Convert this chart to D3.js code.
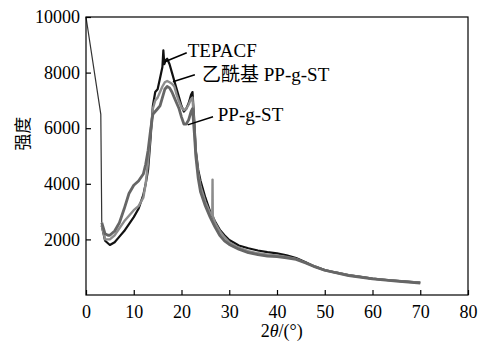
<!DOCTYPE html>
<html>
<head>
<meta charset="utf-8">
<script src="https://cdn.jsdelivr.net/npm/d3@7"></script>
<style>
  body { margin: 0; background: #fff; }
  text { font-family: "Liberation Serif", "Times New Roman", serif; }
</style>
</head>
<body>
<div id="chart"></div>
<script>
// x ticks / y ticks
const xTicks = [0, 10, 20, 30, 40, 50, 60, 70, 80];
const yTicks = [2000, 4000, 6000, 8000, 10000];

// start of the scan (thin line before the curves)
const startLine = [[0, 10000], [3.1, 6500], [3.3, 2600]];

// TEPACF (black)
const tepacf = [
  [3.3, 2500], [4, 1950], [5, 1800], [6, 1900], [7, 2100], [8, 2300], [9, 2550], [10, 2800],
  [11, 3100], [12, 3600], [12.5, 4000], [13, 4500], [13.5, 5600], [14, 6800], [14.5, 7300],
  [15, 7400], [15.5, 7800], [16, 8200], [16.2, 8800], [16.4, 8300], [16.7, 8450], [17, 8500],
  [17.5, 8300], [18, 8000], [18.5, 7700], [19, 7400], [19.5, 7100], [20, 6800], [20.5, 6600],
  [21, 6700], [21.5, 6900], [22, 7200], [22.3, 7300], [22.7, 6200], [23, 5200], [23.5, 4500],
  [24, 4100], [25, 3500], [26, 3000], [27, 2650], [28, 2350], [29, 2150], [30, 1980],
  [32, 1780], [34, 1680], [36, 1600], [38, 1540], [40, 1500], [42, 1430], [44, 1330],
  [46, 1180], [48, 1020], [50, 900], [52, 820], [55, 720], [58, 640], [60, 590], [63, 540],
  [66, 500], [70, 450]
];

// 乙酰基 PP-g-ST (light grey)
const acetylPPgST = [
  [3.3, 2500], [4, 2000], [5, 2000], [6, 2150], [7, 2400], [8, 2650], [9, 2850], [10, 3050],
  [11, 3200], [12, 3500], [12.5, 4000], [13, 4800], [13.5, 5800], [14, 6700], [14.5, 7000],
  [15, 7100], [15.5, 7300], [16, 7500], [16.5, 7650], [17, 7700], [17.5, 7650], [18, 7600],
  [18.5, 7500], [19, 7200], [19.5, 6950], [20, 6750], [20.5, 6650], [21, 6700], [21.5, 6850],
  [22, 7050], [22.3, 7100], [22.7, 6000], [23, 5100], [23.5, 4400], [24, 3900], [25, 3350],
  [26, 2950], [26.45, 2860], [26.5, 4150], [26.55, 2850], [27, 2600], [28, 2300], [29, 2080],
  [30, 1900], [32, 1700], [34, 1580], [36, 1500], [38, 1450], [40, 1420], [42, 1370],
  [44, 1300], [46, 1160], [48, 1020], [50, 890], [55, 710], [60, 590], [65, 510], [70, 440]
];

// PP-g-ST (dark grey)
const ppgST = [
  [3.3, 2600], [4, 2200], [4.6, 2150], [5, 2150], [6, 2300], [7, 2600], [8, 3100], [9, 3650],
  [10, 3950], [11, 4100], [12, 4350], [12.5, 4700], [13, 5200], [13.5, 5900], [14, 6500],
  [14.5, 6600], [15, 6700], [15.5, 6800], [16, 7100], [16.5, 7400], [17, 7500], [17.5, 7450],
  [18, 7300], [18.5, 7100], [19, 6900], [19.5, 6700], [20, 6400], [20.5, 6150], [21, 6150],
  [21.5, 6300], [22, 6600], [22.3, 6700], [22.7, 5800], [23, 5000], [23.5, 4200], [24, 3700],
  [25, 3200], [26, 2800], [27, 2450], [28, 2150], [29, 1950], [30, 1820], [32, 1650],
  [34, 1520], [36, 1450], [38, 1400], [40, 1380], [42, 1340], [44, 1280], [46, 1150],
  [48, 1010], [50, 890], [55, 700], [60, 580], [65, 500], [70, 430]
];

const margin = {top: 17, right: 15, bottom: 49, left: 86};
const width = 483 - margin.left - margin.right;
const height = 344 - margin.top - margin.bottom;

const svg = d3.select("#chart")
    .append("svg")
    .attr("width", 483)
    .attr("height", 344)
    .append("g")
    .attr("transform", `translate(${margin.left},${margin.top})`);

const x = d3.scaleLinear().domain([0, 80]).range([0, width]);
const y = d3.scaleLinear().domain([0, 10000]).range([height, 0]);

const line = d3.line().x(d => x(d[0])).y(d => y(d[1]));

// curves: black first, greys on top
const series = [
  {data: tepacf, color: "#111", w: 2.2},
  {data: acetylPPgST, color: "#8c8c8c", w: 2.4},
  {data: ppgST, color: "#666", w: 2.8}
];

svg.append("path")
    .datum(startLine)
    .attr("d", line)
    .attr("fill", "none")
    .attr("stroke", "#333")
    .attr("stroke-width", 1.2);

series.forEach(s => {
  svg.append("path")
      .datum(s.data)
      .attr("d", line)
      .attr("fill", "none")
      .attr("stroke", s.color)
      .attr("stroke-width", s.w)
      .attr("stroke-linejoin", "round");
});

// axes (ticks point inward)
const xAxis = svg.append("g")
    .attr("transform", `translate(0,${height})`)
    .call(d3.axisBottom(x).tickValues(xTicks).tickSize(-5).tickPadding(10).tickFormat(d3.format("d")));

const yAxis = svg.append("g")
    .call(d3.axisLeft(y).tickValues(yTicks).tickSize(-5).tickPadding(6).tickFormat(d3.format("d")));

[xAxis, yAxis].forEach(a => {
  a.attr("font-family", "Liberation Serif").attr("font-size", 18);
  a.select(".domain").remove();
  a.selectAll("line").attr("stroke", "#000").attr("stroke-width", 1.2);
  a.selectAll("text").attr("fill", "#000");
});

// frame
svg.append("rect")
    .attr("width", width)
    .attr("height", height)
    .attr("fill", "none")
    .attr("stroke", "#000")
    .attr("stroke-width", 1.2);

// axis titles
const xTitle = svg.append("text")
    .attr("x", x(41))
    .attr("y", height + 42)
    .attr("text-anchor", "middle")
    .style("font-size", "18px");
xTitle.append("tspan").text("2");
xTitle.append("tspan").style("font-style", "italic").text("θ");
xTitle.append("tspan").text("/(°)");

svg.append("text")
    .attr("transform", `translate(${-57},${y(5800)}) rotate(-90)`)
    .attr("text-anchor", "middle")
    .attr("fill", "#000")
    .style("font-family", "'Noto Sans CJK SC', sans-serif")
    .style("font-size", "17px")
    .text("强度");

// labels with leader lines
const labels = [
  {text: "TEPACF", from: [16.5, 8390], to: [21.1, 8715], at: [21.3, 8570]},
  {text: "乙酰基 PP-g-ST", from: [18.2, 7670], to: [22.8, 7920], at: [24.3, 7705]},
  {text: "PP-g-ST", from: [21.3, 6120], to: [26.6, 6410], at: [27.6, 6263]}
];

labels.forEach(l => {
  svg.append("line")
      .attr("x1", x(l.from[0])).attr("y1", y(l.from[1]))
      .attr("x2", x(l.to[0])).attr("y2", y(l.to[1]))
      .attr("stroke", "#000")
      .attr("stroke-width", 1.5);
  svg.append("text")
      .attr("x", x(l.at[0]))
      .attr("y", y(l.at[1]))
      .style("font-family", "'Liberation Serif', 'Noto Sans CJK SC', serif")
      .style("font-size", "19px")
      .text(l.text);
});
</script>
</body>
</html>
